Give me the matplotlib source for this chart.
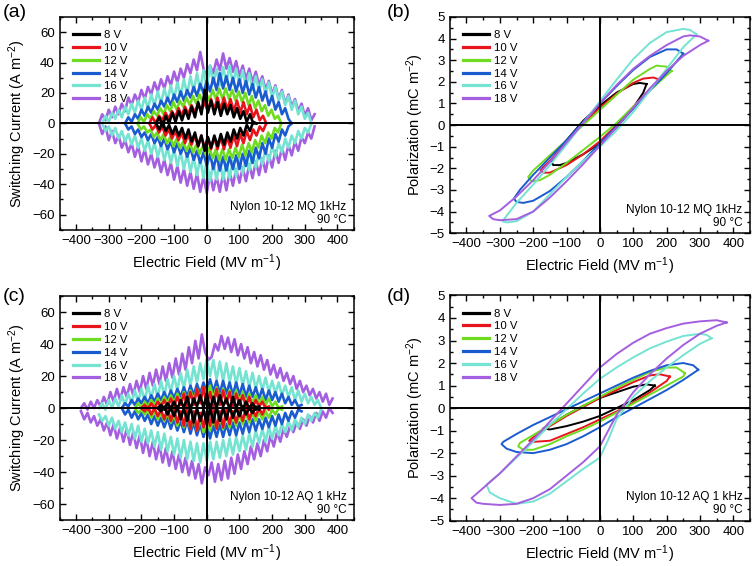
import numpy as np
import matplotlib
matplotlib.use('Agg')
import matplotlib.pyplot as plt
from matplotlib.ticker import MultipleLocator

plt.rcParams['font.family'] = ['Liberation Sans', 'DejaVu Sans']
plt.rcParams['mathtext.default'] = 'regular'

labels = ['8 V', '10 V', '12 V', '14 V', '16 V', '18 V']
colors = ['#000000', '#e8141c', '#6fdc22', '#1a5bd0', '#74e3d2', '#a45fe0']

# ---- (a) switching current, MQ: field range and upper / lower branches
a_range = [(-155, 152), (-176, 182), (-212, 228), (-250, 260), (-320, 320), (-330, 330)]
a_up = [
    [0, 4, -2, 5, 0, 7, 1, 8, 2, 9, 3, 11, 4, 14, 6, 22, 7, 15, 6, 14, 5, 13, 6, 12, 4, 10, 3, 8, 1, 6, 0, 0],
    [0, 4, 0, 5, 2, 7, 3, 8, 4, 10, 5, 11, 6, 12, 7, 13, 8, 14, 8, 16, 9, 17, 9, 17, 9, 16, 8, 15, 7, 14,
     6, 12, 4, 9, 2, 5, 0],
    [0, 4, 1, 6, 3, 8, 5, 10, 6, 12, 8, 14, 9, 15, 11, 17, 12, 18, 13, 19, 14, 20, 15, 22, 16, 23, 16, 23, 16, 22,
     15, 21, 14, 20, 12, 18, 10, 15, 8, 12, 5, 9, 3, 5, 0],
    [0, 4, 1, 6, 3, 9, 5, 11, 7, 13, 9, 15, 11, 17, 12, 19, 14, 21, 15, 22, 17, 24, 18, 26, 20, 28, 21, 30, 22, 33,
     23, 31, 22, 30, 21, 29, 20, 28, 19, 26, 17, 24, 15, 21, 12, 18, 9, 14, 6, 10, 3, 0],
    [0, 5, 1, 7, 3, 9, 4, 11, 6, 13, 7, 15, 9, 17, 10, 19, 12, 21, 13, 23, 15, 25, 16, 27, 18, 29, 19, 31, 21, 33,
     22, 35, 24, 38, 26, 36, 25, 37, 27, 38, 26, 36, 25, 35, 24, 33, 22, 31, 21, 29, 19, 27, 17, 24, 15, 21,
     12, 18, 9, 15, 6, 11, 3, 7, 0],
    [0, 6, 2, 9, 4, 11, 6, 13, 8, 17, 12, 19, 14, 22, 16, 24, 19, 27, 21, 29, 23, 31, 25, 34, 27, 36, 30, 39, 33, 42,
     35, 47, 36, 30, 38, 33, 42, 35, 46, 36, 43, 34, 41, 31, 38, 29, 36, 27, 34, 25, 31, 22, 28, 19, 25, 16,
     22, 13, 19, 11, 16, 8, 13, 5, 10, 2, 6],
]
a_down = [
    [0, -4, 1, -5, -1, -7, -2, -8, -3, -10, -4, -12, -6, -15, -8, -18, -9, -16, -8, -15, -7, -14, -6, -12, -4, -10,
     -3, -8, -1, -5, 1, 0],
    [0, -4, -1, -6, -2, -8, -4, -10, -5, -11, -6, -13, -7, -14, -8, -15, -8, -16, -9, -17, -9, -17, -9, -17, -9, -16,
     -8, -15, -7, -13, -5, -11, -4, -8, -2, -5, 0],
    [0, -4, -2, -6, -4, -9, -6, -11, -7, -13, -9, -15, -10, -16, -12, -18, -13, -19, -14, -20, -15, -21, -16, -23,
     -17, -24, -17, -24, -17, -23, -16, -22, -14, -21, -13, -19, -11, -16, -8, -13, -6, -10, -3, -6, 0],
    [0, -4, -2, -7, -4, -9, -6, -11, -7, -13, -9, -15, -10, -17, -12, -19, -13, -20, -15, -22, -16, -24, -18, -26,
     -19, -28, -20, -30, -21, -31, -22, -31, -22, -30, -21, -30, -20, -28, -18, -26, -16, -23, -13, -20, -10, -16,
     -7, -12, -4, -8, -2, 0],
    [0, -5, -2, -8, -3, -10, -5, -12, -7, -14, -8, -16, -10, -18, -11, -20, -13, -22, -14, -24, -16, -26, -17, -28,
     -19, -30, -20, -32, -22, -34, -23, -36, -25, -38, -26, -37, -25, -37, -26, -36, -25, -35, -23, -33, -22, -31,
     -20, -29, -19, -27, -17, -25, -15, -22, -13, -19, -10, -16, -8, -13, -5, -10, -3, -6, 0],
    [0, -7, -2, -11, -5, -13, -8, -16, -11, -19, -13, -22, -15, -25, -17, -27, -20, -29, -22, -32, -24, -34, -26, -37,
     -28, -39, -30, -41, -32, -43, -33, -45, -35, -46, -33, -44, -35, -45, -33, -44, -32, -41, -30, -39, -29, -38,
     -27, -36, -25, -34, -23, -32, -21, -29, -18, -26, -16, -24, -14, -21, -12, -18, -9, -13, -6, -10, -2],
]

# ---- (c) switching current, AQ
c_range = [(-150, 160), (-200, 190), (-220, 230), (-260, 290), (-330, 350), (-385, 385)]
c_up = [
    [0, 2, -1, 3, 0, 4, -1, 5, 0, 7, -1, 6, 1, 8, 0, 9, -1, 7, 0, 8, 1, 6, -1, 7, 0, 5, -1, 4, 0, 3, -1, 1],
    [0, 2, -1, 3, 0, 4, 1, 5, 0, 6, 1, 7, 2, 9, 1, 10, 2, 12, 3, 13, 2, 10, 1, 12, 2, 11, 3, 10, 1, 9,
     2, 8, 1, 7, 0, 5, 1, 4, 0, 1],
    [0, 3, 0, 4, 1, 5, 2, 6, 2, 7, 3, 8, 3, 9, 4, 10, 4, 11, 5, 12, 5, 13, 6, 14, 6, 13, 5, 12, 5, 11,
     4, 11, 4, 10, 3, 9, 3, 8, 2, 7, 2, 6, 1, 4, 0, 1],
    [0, 3, 1, 5, 2, 6, 3, 7, 3, 8, 4, 9, 5, 10, 5, 11, 6, 12, 7, 13, 7, 14, 8, 15, 9, 16, 9, 18, 10, 17,
     9, 17, 9, 16, 8, 16, 8, 15, 7, 14, 7, 13, 6, 12, 5, 11, 5, 10, 4, 9, 3, 7, 2, 5, 1, 2],
    [0, 3, -1, 5, 0, 6, 1, 8, 2, 9, 3, 11, 4, 12, 5, 14, 6, 15, 7, 17, 8, 18, 10, 20, 11, 22, 12, 24, 14, 26,
     16, 28, 18, 31, 20, 30, 18, 29, 17, 28, 16, 26, 15, 25, 14, 23, 13, 22, 12, 20, 11, 19, 10, 17, 9, 16,
     8, 14, 7, 13, 5, 11, 4, 9, 3, 7, 2, 5, 0],
    [0, 3, -1, 4, 0, 5, 1, 7, 2, 10, 4, 12, 5, 13, 7, 15, 8, 17, 10, 20, 12, 22, 14, 24, 15, 26, 17, 28, 19, 31,
     21, 34, 24, 38, 28, 42, 31, 46, 35, 30, 32, 40, 36, 45, 37, 44, 35, 43, 33, 40, 31, 38, 28, 35, 26, 33,
     24, 30, 21, 27, 19, 25, 17, 22, 15, 20, 12, 17, 10, 14, 8, 12, 6, 10, 4, 9, 2, 6],
]
c_down = [
    [0, -2, 1, -4, 0, -5, 1, -7, 0, -8, 1, -9, 0, -8, -1, -10, 0, -9, 1, -8, 0, -7, 1, -6, 0, -5, 1, -4, 0, -3, 1, -1],
    [0, -2, 1, -4, 0, -5, -1, -7, 0, -8, -1, -9, -2, -11, -1, -13, -2, -14, -3, -12, -2, -11, -1, -13, -2, -12,
     -1, -10, -2, -9, -1, -8, 0, -7, -1, -5, 0, -4, 1, -1],
    [0, -3, -1, -4, -1, -6, -2, -7, -3, -8, -3, -9, -4, -11, -4, -12, -5, -13, -5, -14, -6, -15, -6, -14, -6, -13,
     -5, -13, -5, -12, -4, -11, -4, -10, -3, -9, -3, -8, -2, -7, -2, -6, -1, -4, 0, -1],
    [0, -4, -1, -6, -2, -7, -3, -8, -4, -10, -5, -11, -6, -12, -6, -13, -7, -14, -8, -15, -8, -16, -9, -17, -10, -18,
     -10, -19, -11, -18, -10, -18, -10, -17, -9, -17, -9, -16, -8, -15, -7, -14, -7, -13, -6, -12, -5, -11,
     -4, -10, -3, -8, -2, -6, -1, -2],
    [-4, -8, -5, -11, -6, -13, -8, -15, -9, -17, -10, -19, -11, -21, -13, -22, -14, -24, -15, -26, -16, -27, -18, -29,
     -19, -31, -20, -32, -21, -33, -22, -34, -22, -33, -21, -32, -21, -31, -20, -30, -19, -29, -18, -27, -17, -26,
     -16, -24, -14, -22, -13, -21, -12, -19, -11, -17, -10, -15, -8, -14, -7, -12, -6, -10, -4, -8, -3, -6, -1],
    [-2, -7, -3, -9, -5, -11, -7, -14, -9, -17, -10, -19, -12, -21, -13, -23, -15, -25, -17, -28, -19, -30, -21, -32,
     -23, -34, -25, -36, -27, -38, -29, -40, -31, -42, -33, -44, -35, -47, -37, -42, -34, -46, -35, -45, -33, -44,
     -31, -41, -29, -38, -27, -35, -24, -32, -22, -30, -20, -27, -17, -24, -15, -21, -13, -18, -11, -15, -9, -13,
     -7, -11, -5, -9, -3, -8, -2, -6, 0, -3],
]

# ---- (b) polarization loops, MQ
b_E = [
    [140, 120, 100, 50, 0, -50, -100, -130, -145, -140, -120, -100, -50, 0, 50, 100, 130, 140],
    [180, 160, 130, 100, 50, 0, -50, -100, -150, -170, -178, -170, -150, -100, -50, 0, 50, 100, 150, 175, 180],
    [215, 200, 170, 150, 100, 50, 0, -50, -100, -150, -200, -215, -205, -180, -150, -100, -50, 0, 50, 100, 150, 200, 215],
    [250, 230, 200, 150, 100, 50, 0, -50, -100, -150, -200, -240, -258, -250, -230, -200, -150, -100, -50, 0, 50,
     100, 150, 200, 250],
    [290, 270, 250, 200, 150, 100, 50, 0, -50, -100, -150, -200, -250, -280, -292, -280, -250, -200, -150, -100,
     -50, 0, 50, 100, 150, 200, 250, 290],
    [325, 300, 270, 250, 200, 150, 100, 50, 0, -50, -100, -150, -200, -250, -300, -332, -320, -300, -250, -200,
     -150, -100, -50, 0, 50, 100, 150, 200, 250, 300, 325],
]
b_P = [
    [1.9, 1.95, 1.9, 1.5, 0.9, 0.2, -0.7, -1.3, -1.7, -1.85, -1.85, -1.75, -1.35, -0.85, -0.1, 0.8, 1.5, 1.9],
    [2.1, 2.2, 2.15, 1.95, 1.45, 0.8, 0.05, -0.8, -1.65, -1.95, -2.1, -2.2, -2.2, -1.85, -1.35, -0.75, 0.0, 0.85,
     1.65, 2.0, 2.1],
    [2.5, 2.7, 2.75, 2.6, 2.1, 1.4, 0.7, 0.0, -0.7, -1.4, -2.1, -2.4, -2.6, -2.55, -2.3, -1.75, -1.15, -0.55, 0.1,
     0.85, 1.6, 2.3, 2.5],
    [3.3, 3.5, 3.5, 3.15, 2.55, 1.8, 1.0, 0.15, -0.7, -1.5, -2.3, -3.0, -3.4, -3.55, -3.6, -3.5, -3.05, -2.4, -1.65,
     -0.85, -0.05, 0.75, 1.6, 2.4, 3.3],
    [4.2, 4.4, 4.45, 4.3, 3.8, 3.05, 2.1, 1.1, 0.1, -0.9, -1.85, -2.75, -3.6, -4.2, -4.45, -4.5, -4.45, -4.0, -3.2,
     -2.4, -1.65, -1.0, -0.25, 0.6, 1.6, 2.6, 3.6, 4.2],
    [3.9, 4.1, 4.15, 4.1, 3.7, 3.2, 2.6, 1.85, 1.0, 0.1, -0.8, -1.7, -2.55, -3.3, -3.95, -4.2, -4.35, -4.4, -4.35,
     -4.0, -3.35, -2.6, -1.8, -0.95, -0.1, 0.8, 1.7, 2.5, 3.2, 3.7, 3.9],
]

# ---- (d) polarization loops, AQ
d_E = [
    [165, 140, 100, 50, 0, -50, -100, -150, -170, -150, -100, -50, 0, 50, 100, 150, 165],
    [210, 180, 150, 100, 50, 0, -50, -100, -150, -200, -212, -200, -150, -100, -50, 0, 50, 100, 150, 200, 210],
    [255, 230, 200, 150, 100, 50, 0, -50, -100, -150, -200, -240, -245, -230, -200, -150, -100, -50, 0, 50, 100,
     150, 200, 250, 255],
    [295, 280, 250, 200, 150, 100, 50, 0, -50, -100, -150, -200, -250, -290, -295, -280, -250, -200, -150, -100,
     -50, 0, 50, 100, 150, 200, 250, 295],
    [335, 320, 300, 250, 200, 150, 100, 50, 0, -50, -100, -150, -200, -250, -300, -340, -330, -300, -250, -200,
     -150, -100, -50, 0, 25, 50, 100, 150, 200, 250, 300, 335],
    [380, 350, 300, 250, 200, 150, 100, 50, 0, -50, -100, -150, -200, -250, -300, -350, -385, -370, -350, -300,
     -250, -200, -150, -100, -50, 0, 25, 50, 100, 150, 200, 250, 300, 350, 380],
]
d_P = [
    [1.0, 1.05, 0.95, 0.7, 0.45, 0.1, -0.3, -0.75, -0.9, -0.95, -0.8, -0.6, -0.35, 0.0, 0.35, 0.8, 1.0],
    [1.4, 1.5, 1.45, 1.15, 0.8, 0.45, 0.05, -0.35, -0.8, -1.3, -1.45, -1.5, -1.45, -1.15, -0.85, -0.5, -0.15, 0.25,
     0.7, 1.2, 1.4],
    [1.55, 1.8, 1.8, 1.6, 1.25, 0.9, 0.5, 0.1, -0.3, -0.75, -1.2, -1.55, -1.7, -1.85, -1.85, -1.6, -1.25, -0.95,
     -0.6, -0.2, 0.2, 0.6, 1.0, 1.4, 1.55],
    [1.7, 1.9, 2.0, 1.9, 1.65, 1.35, 1.0, 0.65, 0.3, -0.05, -0.4, -0.75, -1.15, -1.5, -1.6, -1.8, -1.95, -2.0,
     -1.85, -1.6, -1.25, -0.85, -0.4, 0.0, 0.4, 0.8, 1.25, 1.7],
    [3.1, 3.25, 3.3, 3.2, 2.95, 2.65, 2.25, 1.8, 1.3, 0.65, -0.05, -0.75, -1.5, -2.2, -2.9, -3.4, -3.75, -4.0,
     -4.25, -4.15, -3.8, -3.25, -2.7, -2.2, -1.4, -0.5, 0.5, 1.2, 1.8, 2.35, 2.85, 3.1],
    [3.8, 3.9, 3.85, 3.75, 3.55, 3.3, 2.9, 2.4, 1.8, 1.0, 0.2, -0.6, -1.4, -2.15, -2.9, -3.55, -4.0, -4.2, -4.25,
     -4.3, -4.25, -4.0, -3.6, -3.0, -2.4, -1.7, -1.0, -0.3, 0.7, 1.5, 2.2, 2.8, 3.3, 3.65, 3.8],
]

fig = plt.figure(figsize=(7.56, 5.66), dpi=100)
ax_a = fig.add_axes([0.079, 0.594, 0.389, 0.376])
ax_b = fig.add_axes([0.595, 0.588, 0.397, 0.382])
ax_c = fig.add_axes([0.079, 0.081, 0.389, 0.396])
ax_d = fig.add_axes([0.595, 0.080, 0.397, 0.398])


def style(ax, ylim, ymaj, ymin, ylabel, note):
    ax.set_xlim(-450, 450)
    ax.set_ylim(*ylim)
    ax.xaxis.set_major_locator(MultipleLocator(100))
    ax.xaxis.set_minor_locator(MultipleLocator(50))
    ax.yaxis.set_major_locator(MultipleLocator(ymaj))
    ax.yaxis.set_minor_locator(MultipleLocator(ymin))
    ax.tick_params(which='both', direction='in', top=True, right=True, labelsize=9.5)
    ax.tick_params(which='major', length=4, width=1)
    ax.tick_params(which='minor', length=2, width=1)
    for s in ax.spines.values():
        s.set_linewidth(1.1)
    ax.axhline(0, color='black', lw=1.4, zorder=5)
    ax.axvline(0, color='black', lw=1.4, zorder=5)
    ax.set_xlabel('Electric Field (MV m$^{-1}$)', fontsize=10.5, labelpad=4)
    ax.set_ylabel(ylabel, fontsize=10.5, labelpad=3)
    ax.text(0.975, 0.02, note, transform=ax.transAxes, ha='right', va='bottom',
            fontsize=8.5, linespacing=1.1)
    h, l = ax.get_legend_handles_labels()
    order = sorted(range(len(l)), key=lambda k: labels.index(l[k]))
    leg = ax.legend([h[k] for k in order], [l[k] for k in order], loc='upper left',
                    frameon=False, fontsize=8.2, handlelength=2.3, labelspacing=0.25,
                    borderaxespad=0.75, handletextpad=0.4)
    for line in leg.get_lines():
        line.set_linewidth(2.3)


for ax, rng, up, down in [(ax_a, a_range, a_up, a_down), (ax_c, c_range, c_up, c_down)]:
    for i in range(5, -1, -1):
        x_up = np.linspace(rng[i][0], rng[i][1], len(up[i]))
        x_dn = np.linspace(rng[i][0], rng[i][1], len(down[i]))
        ax.plot(x_up, up[i], color=colors[i], lw=1.9, label=labels[i])
        ax.plot(x_dn, down[i], color=colors[i], lw=1.9)

for ax, Es, Ps in [(ax_b, b_E, b_P), (ax_d, d_E, d_P)]:
    for i in range(6):
        ax.plot(Es[i], Ps[i], color=colors[i], lw=1.4, label=labels[i])

style(ax_a, (-70, 70), 20, 10, 'Switching Current (A m$^{-2}$)', 'Nylon 10-12 MQ 1kHz\n90 °C')
style(ax_b, (-5, 5), 1, 0.5, 'Polarization (mC m$^{-2}$)', 'Nylon 10-12 MQ 1kHz\n90 °C')
style(ax_c, (-70, 70), 20, 10, 'Switching Current (A m$^{-2}$)', 'Nylon 10-12 AQ 1 kHz\n90 °C')
style(ax_d, (-5, 5), 1, 0.5, 'Polarization (mC m$^{-2}$)', 'Nylon 10-12 AQ 1 kHz\n90 °C')

fig.text(0.004, 0.978, '(a)', fontsize=14, va='center')
fig.text(0.512, 0.978, '(b)', fontsize=14, va='center')
fig.text(0.004, 0.476, '(c)', fontsize=14, va='center')
fig.text(0.512, 0.476, '(d)', fontsize=14, va='center')

fig.savefig('out.png', dpi=100)
